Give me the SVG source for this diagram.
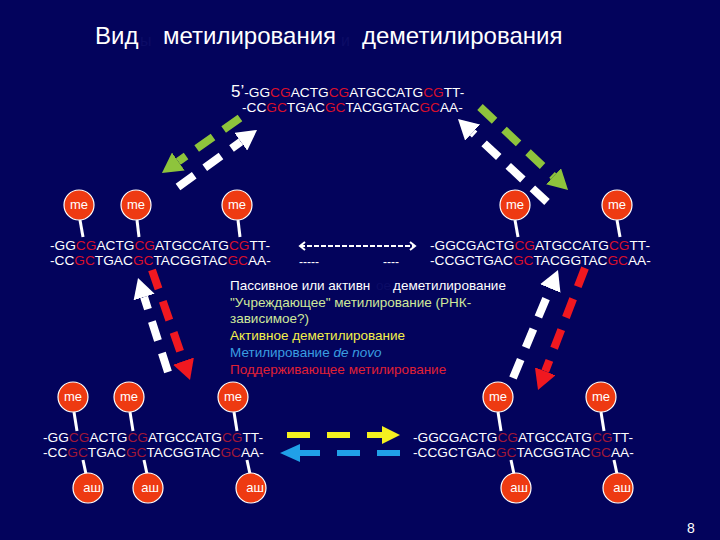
<svg xmlns="http://www.w3.org/2000/svg" width="720" height="540" viewBox="0 0 720 540">
<defs>
<style>
text{font-family:"Liberation Sans",Arial,sans-serif}
.title{font-size:24px;fill:#ffffff}
.hid{fill:#0c0c66}
.dna{font-size:13.7px;fill:#ffffff}
.r{fill:#d8102c}
.rb{fill:#a01838}
.lbl{font-size:13.5px}
.ball{fill:#ee3a12;stroke:#ffffff;stroke-width:1.2}
.stem{stroke:#ffffff;stroke-width:3}
.bt{font-size:13px;fill:#ffffff;text-anchor:middle}
.dash{fill:none;stroke-width:8;stroke-dasharray:20 13}
</style>
<marker id="ahG" viewBox="0 -11 20 22" markerWidth="20" markerHeight="22" refX="0" refY="0" orient="auto" markerUnits="userSpaceOnUse"><path d="M0,-11 L20,0 L0,11 z" fill="#8ec43c"/></marker>
<marker id="ahW" viewBox="0 -11 20 22" markerWidth="20" markerHeight="22" refX="0" refY="0" orient="auto" markerUnits="userSpaceOnUse"><path d="M0,-11 L20,0 L0,11 z" fill="#ffffff"/></marker>
<marker id="ahR" viewBox="0 -11 20 22" markerWidth="20" markerHeight="22" refX="0" refY="0" orient="auto" markerUnits="userSpaceOnUse"><path d="M0,-11 L20,0 L0,11 z" fill="#f01820"/></marker>
<marker id="ahY" viewBox="0 -9 18 18" markerWidth="18" markerHeight="18" refX="0" refY="0" orient="auto" markerUnits="userSpaceOnUse"><path d="M0,-9 L18,0 L0,9 z" fill="#f4f020"/></marker>
<marker id="ahB" viewBox="0 -9 20 18" markerWidth="20" markerHeight="18" refX="0" refY="0" orient="auto" markerUnits="userSpaceOnUse"><path d="M0,-9 L20,0 L0,9 z" fill="#20a0e8"/></marker>
<marker id="chev" viewBox="0 -5 8 10" markerWidth="8" markerHeight="10" refX="6" refY="0" orient="auto-start-reverse" markerUnits="userSpaceOnUse"><path d="M1,-4 L6,0 L1,4" fill="none" stroke="#ffffff" stroke-width="2"/></marker>
</defs>
<rect x="0" y="0" width="720" height="540" fill="#03035c"/>

<g id="title">
<text class="title" x="95" y="44">Вид</text>
<text class="hid" x="140" y="46" font-size="16">ы</text>
<text class="title" x="163" y="44">метилирования</text>
<text class="hid" x="341" y="46" font-size="16">и</text>
<text class="title" x="362" y="44">деметилирования</text>
</g>

<g id="dna-top">
<text class="dna" x="231" y="97"><tspan font-size="17">5’</tspan>-GG<tspan class="r">CG</tspan>ACTG<tspan class="r">CG</tspan>ATGCCATG<tspan class="r">CG</tspan>TT-</text>
<text class="dna" x="242" y="112">-CC<tspan class="r">GC</tspan>TGAC<tspan class="r">GC</tspan>TACGGTAC<tspan class="r">GC</tspan>AA-</text>
</g>

<g id="dna-mid-left">
<text class="dna" x="50" y="250">-GG<tspan class="r">CG</tspan>ACTG<tspan class="r">CG</tspan>ATGCCATG<tspan class="r">CG</tspan>TT-</text>
<text class="dna" x="50" y="265">-CC<tspan class="r">GC</tspan>TGAC<tspan class="r">GC</tspan>TACGGTAC<tspan class="r">GC</tspan>AA-</text>
<line class="stem" x1="80" y1="220" x2="83" y2="237"/>
<line class="stem" x1="137" y1="220" x2="139" y2="237"/>
<line class="stem" x1="238" y1="220" x2="240" y2="237"/>
</g>
<g id="me-ml1"><circle class="ball" cx="79" cy="205" r="15"/><text class="bt" x="79" y="209">me</text></g>
<g id="me-ml2"><circle class="ball" cx="136" cy="205" r="15"/><text class="bt" x="136" y="209">me</text></g>
<g id="me-ml3"><circle class="ball" cx="237" cy="205" r="15"/><text class="bt" x="237" y="209">me</text></g>

<g id="dna-mid-right">
<text class="dna" x="430" y="250">-GGCGACTG<tspan class="r">CG</tspan>ATGCCATG<tspan class="r">CG</tspan>TT-</text>
<text class="dna" x="430" y="265">-CCGCTGAC<tspan class="r">GC</tspan>TACGGTAC<tspan class="r">GC</tspan>AA-</text>
<line class="stem" x1="515" y1="220" x2="518" y2="237"/>
<line class="stem" x1="617" y1="220" x2="620" y2="237"/>
</g>
<g id="me-mr1"><circle class="ball" cx="515" cy="205" r="15"/><text class="bt" x="515" y="209">me</text></g>
<g id="me-mr2"><circle class="ball" cx="617" cy="205" r="15"/><text class="bt" x="617" y="209">me</text></g>

<g id="legend" class="lbl">
<text x="230" y="290" fill="#ffffff">Пассивное или активн</text>
<text x="376" y="290" class="hid">ое</text>
<text x="393" y="290" fill="#ffffff">деметилирование</text>
<text x="230" y="307" fill="#cfe89a">"Учреждающее" метилирование (РНК-</text>
<text x="230" y="323" fill="#cfe89a">зависимое?)</text>
<text x="230" y="340" fill="#f4f04a">Активное деметилирование</text>
<text x="230" y="357" fill="#3a9ee0">Метилирование <tspan font-style="italic">de novo</tspan></text>
<text x="230" y="374" fill="#e02034">Поддерживающее метилирование</text>
</g>

<g id="dna-bot-left">
<text class="dna" x="43" y="442">-GG<tspan class="rb">CG</tspan>ACTG<tspan class="rb">CG</tspan>ATGCCATG<tspan class="rb">CG</tspan>TT-</text>
<text class="dna" x="43" y="457">-CC<tspan class="rb">GC</tspan>TGAC<tspan class="rb">GC</tspan>TACGGTAC<tspan class="rb">GC</tspan>AA-</text>
<line class="stem" x1="74" y1="412" x2="77" y2="431"/>
<line class="stem" x1="130" y1="412" x2="133" y2="431"/>
<line class="stem" x1="234" y1="412" x2="237" y2="431"/>
<line class="stem" x1="83" y1="460" x2="86" y2="474"/>
<line class="stem" x1="144" y1="460" x2="147" y2="474"/>
<line class="stem" x1="247" y1="460" x2="250" y2="474"/>
</g>
<g id="me-bl1"><circle class="ball" cx="73" cy="397" r="15"/><text class="bt" x="73" y="401">me</text></g>
<g id="me-bl2"><circle class="ball" cx="129" cy="397" r="15"/><text class="bt" x="129" y="401">me</text></g>
<g id="me-bl3"><circle class="ball" cx="233" cy="397" r="15"/><text class="bt" x="233" y="401">me</text></g>
<g id="ac-bl1"><circle class="ball" cx="88" cy="488" r="15"/><text class="bt" x="92" y="492">аш</text></g>
<g id="ac-bl2"><circle class="ball" cx="148" cy="488" r="15"/><text class="bt" x="150" y="492">аш</text></g>
<g id="ac-bl3"><circle class="ball" cx="251" cy="488" r="15"/><text class="bt" x="255" y="492">аш</text></g>

<g id="dna-bot-right">
<text class="dna" x="413" y="442">-GGCGACTG<tspan class="rb">CG</tspan>ATGCCATG<tspan class="rb">CG</tspan>TT-</text>
<text class="dna" x="413" y="457">-CCGCTGAC<tspan class="rb">GC</tspan>TACGGTAC<tspan class="rb">GC</tspan>AA-</text>
<line class="stem" x1="498" y1="412" x2="501" y2="431"/>
<line class="stem" x1="601" y1="412" x2="604" y2="431"/>
<line class="stem" x1="511" y1="460" x2="514" y2="474"/>
<line class="stem" x1="614" y1="460" x2="617" y2="474"/>
</g>
<g id="me-br1"><circle class="ball" cx="498" cy="397" r="15"/><text class="bt" x="498" y="401">me</text></g>
<g id="me-br2"><circle class="ball" cx="601" cy="397" r="15"/><text class="bt" x="601" y="401">me</text></g>
<g id="ac-br1"><circle class="ball" cx="516" cy="488" r="15"/><text class="bt" x="519" y="492">аш</text></g>
<g id="ac-br2"><circle class="ball" cx="618" cy="488" r="15"/><text class="bt" x="622" y="492">аш</text></g>

<g id="connectors">
<line class="dash" x1="240" y1="118" x2="178.3" y2="161.5" stroke="#8ec43c" marker-end="url(#ahG)"/>
<line class="dash" x1="178" y1="187" x2="240.8" y2="141.7" stroke="#ffffff" marker-end="url(#ahW)"/>
<line class="dash" x1="547" y1="202" x2="472.6" y2="132.6" stroke="#ffffff" marker-end="url(#ahW)"/>
<line class="dash" x1="480" y1="107" x2="553.5" y2="176.3" stroke="#8ec43c" marker-end="url(#ahG)"/>
<line class="dash" x1="168" y1="372" x2="144.1" y2="297" stroke="#ffffff" marker-end="url(#ahW)"/>
<line class="dash" x1="152" y1="270" x2="183.5" y2="361.1" stroke="#f01820" marker-end="url(#ahR)"/>
<line class="dash" x1="513" y1="378" x2="550.3" y2="288.5" stroke="#ffffff" marker-end="url(#ahW)"/>
<line class="dash" x1="585" y1="268" x2="545.2" y2="371.3" stroke="#f01820" marker-end="url(#ahR)"/>
<line x1="287" y1="435" x2="382" y2="435" stroke="#f4f020" stroke-width="6" stroke-dasharray="23 17" marker-end="url(#ahY)"/>
<line x1="400" y1="453" x2="300" y2="453" stroke="#20a0e8" stroke-width="6" stroke-dasharray="23 17" marker-end="url(#ahB)"/>
<line x1="300" y1="246" x2="415" y2="246" stroke="#ffffff" stroke-width="2" stroke-dasharray="5 2" marker-start="url(#chev)" marker-end="url(#chev)"/>
<text x="299" y="266" font-size="12" fill="#ffffff">-----</text>
<text x="383" y="266" font-size="12" fill="#ffffff">----</text>
</g>

<text x="687" y="533" font-size="14" fill="#ffffff">8</text>
</svg>
